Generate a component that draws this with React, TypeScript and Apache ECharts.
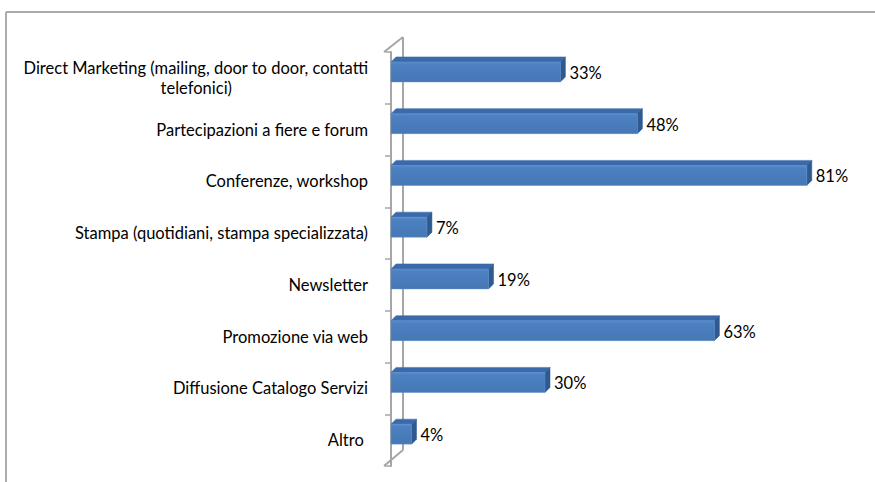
import React, { useEffect, useRef } from 'react';
import * as echarts from 'echarts';

const categories = [
  'Direct Marketing (mailing, door to door, contatti telefonici)',
  'Partecipazioni a fiere e forum',
  'Conferenze, workshop',
  'Stampa (quotidiani, stampa specializzata)',
  'Newsletter',
  'Promozione via web',
  'Diffusione Catalogo Servizi',
  'Altro ',
];
const values = [33, 48, 81, 7, 19, 63, 30, 4];
const valueLabels = values.map((v) => v + '%');

const FONT = 'Lato';
const FS = 16.5;

export default function App() {
  const ref = useRef<HTMLDivElement>(null);
  useEffect(() => {
    if (!ref.current) return;
    const chart = echarts.init(ref.current, undefined, { renderer: 'svg' });
    const line1 = 'Direct Marketing (mailing, door to door, contatti';
    const line2 = 'telefonici)';
    const gray = '#A6A6A6';
    const dx = 5;
    const dy = -5;
    const h = 20;
    const shift = -6;
    chart.setOption({
      animation: false,
      grid: { left: 391, right: 22, top: 52, height: 414 },
      xAxis: { type: 'value', min: 0, max: 90, show: false },
      yAxis: {
        type: 'category',
        inverse: true,
        data: categories,
        offset: 7,
        axisLine: { show: true, lineStyle: { color: gray, width: 2 } },
        axisTick: { show: true, length: 6, lineStyle: { color: gray, width: 1.5 } },
        splitLine: { show: false },
        axisLabel: {
          margin: 16,
          color: '#000',
          fontFamily: FONT,
          fontSize: FS,
          lineHeight: 20,
          formatter: (v: string, i: number) => {
            if (i === 0) return `{a|${line1}}\n{b|${line2}}`;
            return v;
          },
          rich: {
            a: { align: 'right', fontFamily: FONT, fontSize: FS, color: '#000', lineHeight: 20 },
            b: { align: 'right', padding: [0, 136, 0, 0], fontFamily: FONT, fontSize: FS, color: '#000', lineHeight: 20 },
          },
        },
      },
      graphic: [
        { type: 'line', shape: { x1: 6, y1: 12, x2: 875, y2: 12 }, style: { stroke: '#ABABAB', lineWidth: 2 }, silent: true },
        { type: 'line', shape: { x1: 6, y1: 12, x2: 6, y2: 482 }, style: { stroke: '#ABABAB', lineWidth: 2 }, silent: true },
        { type: 'line', shape: { x1: 384, y1: 52, x2: 403, y2: 37 }, style: { stroke: gray, lineWidth: 2 } },
        { type: 'line', shape: { x1: 403, y1: 37, x2: 403, y2: 450 }, style: { stroke: gray, lineWidth: 2 } },
        { type: 'line', shape: { x1: 384, y1: 466, x2: 403, y2: 450 }, style: { stroke: gray, lineWidth: 2 } },
      ],
      series: [
        {
          type: 'custom',
          data: values.map((v, i) => [v, i]),
          encode: { x: 0, y: 1 },
          renderItem: (params: any, api: any) => {
            const v = api.value(0);
            const idx = api.value(1);
            const p = api.coord([v, idx]);
            const b = api.coord([0, idx]);
            const yc = p[1] + shift;
            const top = yc - h / 2;
            const bottom = yc + h / 2;
            const x0 = b[0];
            const x1 = p[0];
            return {
              type: 'group',
              children: [
                {
                  type: 'polygon',
                  shape: { points: [[x0, top], [x0 + dx, top + dy], [x1 + dx, top + dy], [x1, top]] },
                  style: { fill: '#3A6AAA', stroke: '#3A6AAA', lineWidth: 0.5 },
                },
                {
                  type: 'polygon',
                  shape: { points: [[x1, top], [x1 + dx, top + dy], [x1 + dx, bottom + dy], [x1, bottom]] },
                  style: { fill: '#2E5A90', stroke: '#2E5A90', lineWidth: 0.5 },
                },
                {
                  type: 'rect',
                  shape: { x: x0, y: top, width: x1 - x0, height: h },
                  style: {
                    fill: new echarts.graphic.LinearGradient(0, 0, 0, 1, [
                      { offset: 0, color: '#5A8CCB' },
                      { offset: 0.15, color: '#4C80C0' },
                      { offset: 1, color: '#4677B5' },
                    ]),
                    stroke: '#5B8DCC',
                    lineWidth: 0.5,
                  },
                },
                {
                  type: 'text',
                  x: x1 + dx + 4,
                  y: yc + 1,
                  style: {
                    text: valueLabels[idx],
                    fill: '#000',
                    fontFamily: FONT,
                    fontSize: FS,
                    verticalAlign: 'middle',
                    align: 'left',
                  },
                },
              ],
            };
          },
        },
      ],
    });
    return () => chart.dispose();
  }, []);
  return <div ref={ref} style={{ position: 'absolute', left: 0, top: 0, width: 875, height: 482 }} />;
}
